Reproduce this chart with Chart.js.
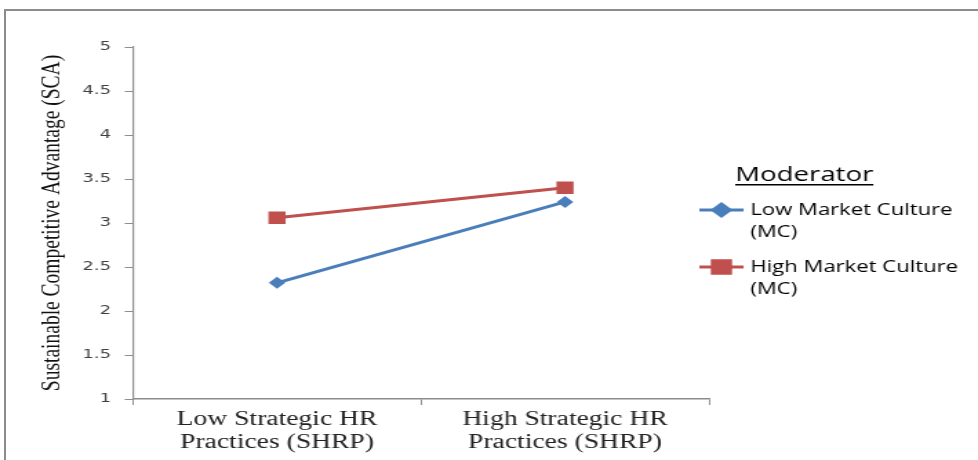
<!DOCTYPE html>
<html>
<head>
<meta charset="utf-8">
<title>SHRP x Market Culture</title>
<script src="https://cdn.jsdelivr.net/npm/chart.js@4.4.1/dist/chart.umd.min.js"></script>
<style>
  html, body { margin: 0; padding: 0; background: #fff; overflow: hidden; }
  #wrap { position: relative; width: 978px; height: 460px; }
  #frame {
    position: absolute; left: 4px; top: 9px; width: 1000px; height: 500px;
    border-left: 2px solid #8c8c8c; border-top: 2px solid #8c8c8c;
    pointer-events: none;
  }
  /* el original esta estirado en horizontal, asi que se estira el canvas */
  #grafico { position: absolute; left: 0; top: 0; width: 978px !important; height: 460px !important; }
</style>
</head>
<body>
<div id="wrap">
  <canvas id="grafico" width="709" height="460" style="width:978px;height:460px"></canvas>
  <div id="frame"></div>
</div>
<script>
// Datos
const categorias = [["Low Strategic HR", "Practices (SHRP)"], ["High Strategic HR", "Practices (SHRP)"]];
const bajoMC = [2.32, 3.24];
const altoMC = [3.06, 3.40];
const etiquetaBajo = ["Low Market Culture", "(MC)"];
const etiquetaAlto = ["High Market Culture", "(MC)"];
const tituloLeyenda = "Moderator";
const tituloY = "Sustainable Competitive Advantage (SCA)";
const ticksY = [1, 1.5, 2, 2.5, 3, 3.5, 4, 4.5, 5];

const azul = "#4a7ebb";
const rojo = "#c0504d";
const gris = "#8c8c8c";

// Leyenda dibujada a mano (titulo subrayado y etiquetas en dos lineas)
const leyendaPlugin = {
    id: "leyendaManual",
    afterDraw(chart) {
        const ctx = chart.ctx;
        ctx.save();
        ctx.fillStyle = "#000";
        ctx.font = "20px 'Open Sans'";
        ctx.textBaseline = "middle";
        ctx.textAlign = "left";
        ctx.fillText(tituloLeyenda, 533, 175);
        const w = ctx.measureText(tituloLeyenda).width;
        ctx.fillRect(533, 184, w, 1.5);

        const filas = [210, 267];
        chart.data.datasets.forEach((ds, i) => {
            const y = filas[i];
            ctx.strokeStyle = ds.borderColor;
            ctx.lineWidth = 3;
            ctx.beginPath();
            ctx.moveTo(507, y);
            ctx.lineTo(539, y);
            ctx.stroke();
            Chart.helpers.drawPoint(ctx, {
                pointStyle: ds.pointStyle,
                radius: ds.pointRadius,
                borderWidth: 1
            }, 523, y);
            ctx.fillStyle = ds.backgroundColor;
            ctx.fill();
            ctx.fillStyle = "#000";
            ctx.font = "16px 'Open Sans'";
            ds.label.forEach((t, j) => ctx.fillText(t, 544, y + j * 22));
        });
        ctx.restore();
    }
};

const ctx = document.getElementById("grafico").getContext("2d");
new Chart(ctx, {
    type: "line",
    data: {
        labels: categorias,
        datasets: [{
            label: etiquetaBajo,
            data: bajoMC,
            borderColor: azul,
            backgroundColor: azul,
            borderWidth: 3,
            pointStyle: "rectRot",
            pointRadius: 6,
            pointBorderWidth: 0,
            tension: 0
        }, {
            label: etiquetaAlto,
            data: altoMC,
            borderColor: rojo,
            backgroundColor: rojo,
            borderWidth: 3,
            pointStyle: "rect",
            pointRadius: 8.8,
            pointBorderWidth: 0,
            tension: 0
        }]
    },
    options: {
        responsive: false,
        animation: false,
        devicePixelRatio: 1,
        layout: { padding: { left: 0, right: 195, top: 47, bottom: 0 } },
        plugins: {
            legend: { display: false },
            tooltip: { enabled: false }
        },
        scales: {
            x: {
                offset: true,
                grid: { offset: true, drawOnChartArea: false, drawTicks: true, tickLength: 6, color: gris },
                border: { color: gris, width: 1.5 },
                ticks: {
                    color: "#222",
                    padding: 3,
                    maxRotation: 0,
                    font: { family: "'Liberation Serif'", size: 20, lineHeight: 1.15 }
                },
                afterFit(scale) { scale.height = 61; }
            },
            y: {
                min: 1,
                max: 5,
                afterBuildTicks(scale) { scale.ticks = ticksY.map(v => ({ value: v })); },
                grid: { drawOnChartArea: false, drawTicks: true, tickLength: 6, color: gris },
                border: { color: gris, width: 1.2 },
                ticks: {
                    color: "#404040",
                    padding: 10,
                    callback: v => String(v),
                    font: { family: "'DejaVu Sans'", size: 13 }
                },
                title: {
                    display: true,
                    text: tituloY,
                    color: "#111",
                    padding: { top: 26, bottom: 0 },
                    font: { family: "'Liberation Serif'", size: 19.5 }
                },
                afterFit(scale) { scale.width = 96.4; }
            }
        }
    },
    plugins: [leyendaPlugin]
});
</script>
</body>
</html>
